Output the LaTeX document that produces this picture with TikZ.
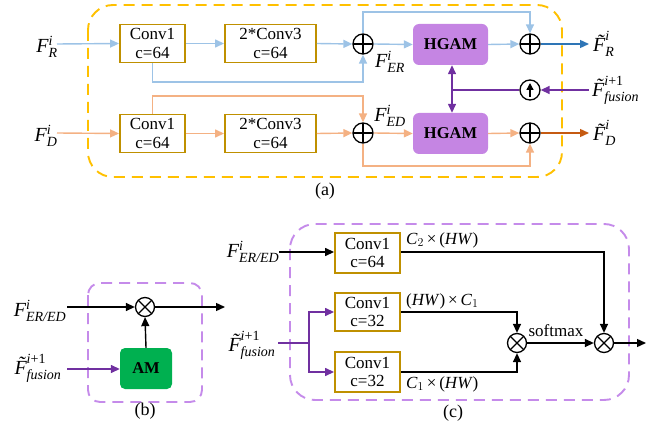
\documentclass[tikz,border=0pt]{standalone}
\usepackage{amsmath}
\usepackage{fontspec}
\setmainfont{Liberation Serif}
\usetikzlibrary{arrows.meta,calc}
\definecolor{lblue}{HTML}{9DC3E6}
\definecolor{dblue}{HTML}{2E75B6}
\definecolor{lorange}{HTML}{F4B183}
\definecolor{dorange}{HTML}{C55A11}
\definecolor{gold}{HTML}{BF9000}
\definecolor{dyellow}{HTML}{FFC000}
\definecolor{pline}{HTML}{7030A0}
\definecolor{hgamfill}{HTML}{C585E3}
\definecolor{dpurple}{HTML}{C58BEA}
\definecolor{amgreen}{HTML}{00B050}
\newcommand\FLab[2]{$\textit{F}^{\textit{#1}}_{\textit{#2}}$}
\newcommand\FTil[2]{$\textit{\~{F}}^{#1}_{#2}$}
\begin{document}
\begin{tikzpicture}[x=1pt,y=-1pt,
  conn/.style={line width=1.4pt},
  convbox/.style={draw=gold, line width=1.9pt, minimum width=65pt, minimum height=38pt, inner sep=0pt, align=center, font=\fontsize{17}{18.5}\selectfont},
  hgam/.style={fill=hgamfill, rounded corners=6pt, minimum width=75pt, minimum height=41pt, inner sep=0pt, font=\fontsize{16.5}{18}\selectfont\bfseries},
  am/.style={fill=amgreen, rounded corners=5pt, minimum width=52pt, minimum height=41pt, inner sep=0pt, font=\fontsize{16.5}{18}\selectfont\bfseries},
  opl/.style={circle, draw, line width=1.3pt, minimum size=20pt, inner sep=0pt,
    path picture={\draw[line width=1.3pt] (path picture bounding box.north) -- (path picture bounding box.south) (path picture bounding box.west) -- (path picture bounding box.east);}},
  otm/.style={circle, draw, line width=1.3pt, minimum size=19pt, inner sep=0pt,
    path picture={\draw[line width=1.3pt] (path picture bounding box.north east) -- (path picture bounding box.south west) (path picture bounding box.north west) -- (path picture bounding box.south east);}},
  upc/.style={circle, draw, line width=1.3pt, minimum size=20pt, inner sep=0pt,
    path picture={\draw[line width=1.3pt,-{Triangle[length=7pt,width=7pt]}] ([yshift=3pt]path picture bounding box.south) -- ([yshift=-3pt]path picture bounding box.north);}},
  lbl/.style={font=\fontsize{20}{24}\selectfont, inner sep=0pt},
  txt/.style={font=\fontsize{17}{19}\selectfont, inner sep=0pt},
  captxt/.style={font=\fontsize{18}{20}\selectfont, inner sep=0pt},
  dashy/.style={line width=1.9pt, dash pattern=on 11pt off 7pt},
  ar/.style={-{Triangle[length=9pt,width=8pt,fill=#1]}},
  ar/.default=black
]
\useasboundingbox (0,0) rectangle (662,433);

% ---------- (a) ----------
\draw[dashy, draw=dyellow, rounded corners=25pt] (88,5) rectangle (562,177);

\node[convbox] (c1r) at (152.5,43.5) {Conv1\\c=64};
\node[convbox, minimum width=91pt] (c3r) at (270.5,43.5) {2*Conv3\\c=64};
\node[convbox] (c1d) at (152.5,133.5) {Conv1\\c=64};
\node[convbox, minimum width=91pt] (c3d) at (270.5,133.5) {2*Conv3\\c=64};
\node[hgam] (hr) at (450.5,44.5) {HGAM};
\node[hgam] (hd) at (450.5,133.5) {HGAM};
\node[opl] (o1r) at (363,44) {};
\node[opl] (o2r) at (530,44) {};
\node[opl] (o1d) at (363,133) {};
\node[opl] (o2d) at (530,133) {};
\node[upc] (up) at (530,90) {};

\node[lbl] (lfr) at (47,47) {\FLab{i}{R}};
\node[lbl] (lfd) at (46,136) {\FLab{i}{D}};
\node[lbl] (ler) at (390,62) {\FLab{i}{ER}};
\node[lbl] (led) at (390,116) {\FLab{i}{ED}};
\node[lbl, anchor=west] (lor) at (593,44) {\FTil{\textit{i}}{\textit{R}}};
\node[lbl, anchor=west] (lod) at (593,133) {\FTil{\textit{i}}{\textit{D}}};
\node[lbl, anchor=west] (lfu) at (592,90) {\FTil{\textit{i}\textup{+1}}{\textit{fusion}}};

\coordinate (inr) at (57,44);
\coordinate (ind) at (57,133);
\coordinate (outr) at (589,44);
\coordinate (outd) at (589,133);
\coordinate (infu) at (589,90);

% blue path
\draw[conn, draw=lblue, ar=lblue] (inr) -- (c1r.west);
\draw[conn, draw=lblue, ar=lblue] (c1r.east) -- (c3r.west);
\draw[conn, draw=lblue, ar=lblue] (c3r.east) -- (o1r.west);
\draw[conn, draw=lblue, ar=lblue] (c1r.south) |- (363,82) -- (o1r.south);
\draw[conn, draw=lblue, ar=lblue] (o1r.east) -- (hr.west);
\draw[conn, draw=lblue, ar=lblue] (o1r.north) |- (530,12) -- (o2r.north);
\draw[conn, draw=lblue, ar=lblue] (hr.east) -- (o2r.west);
\draw[conn, draw=dblue, ar=dblue] (o2r.east) -- (outr);

% orange path
\draw[conn, draw=lorange, ar=lorange] (ind) -- (c1d.west);
\draw[conn, draw=lorange, ar=lorange] (c1d.east) -- (c3d.west);
\draw[conn, draw=lorange, ar=lorange] (c3d.east) -- (o1d.west);
\draw[conn, draw=lorange, ar=lorange] (c1d.north) |- (363,96) -- (o1d.north);
\draw[conn, draw=lorange, ar=lorange] (o1d.east) -- (hd.west);
\draw[conn, draw=lorange, ar=lorange] (o1d.south) |- (530,166) -- (o2d.south);
\draw[conn, draw=lorange, ar=lorange] (hd.east) -- (o2d.west);
\draw[conn, draw=dorange, ar=dorange] (o2d.east) -- (outd);

% purple fusion
\draw[conn, draw=pline, ar=pline] (infu) -- (up.east);
\draw[conn, draw=pline] (up.west) -- (452,90);
\draw[conn, draw=pline, {Triangle[length=9pt,width=8pt,fill=pline]}-{Triangle[length=9pt,width=8pt,fill=pline]}] (hr.south -| 452,0) -- (hd.north -| 452,0);

\node[captxt] (capa) at (325,191) {(a)};

% ---------- (b) ----------
\draw[dashy, draw=dpurple, rounded corners=12pt] (88,283) rectangle (202,402);
\node[otm] (ob) at (145,307) {};
\node[am] (amb) at (146,368.5) {AM};
\node[lbl] (lbe) at (40,311) {\FLab{i}{ER/ED}};
\node[lbl] (lbf) at (38,368) {\FTil{\textit{i}\textup{+1}}{\textit{fusion}}};
\coordinate (bin1) at (67,307);
\coordinate (bin2) at (67,369);
\coordinate (bout) at (225,307);
\draw[conn, ar] (bin1) -- (ob.west);
\draw[conn, ar] (ob.east) -- (bout);
\draw[conn, ar] (amb.north) -- (ob.south);
\draw[conn, draw=pline, ar=pline] (bin2) -- (amb.west |- bin2);
\node[captxt] (capb) at (145,411) {(b)};

% ---------- (c) ----------
\draw[dashy, draw=dpurple, rounded corners=25pt] (290,224) rectangle (629,400);
\node[convbox, minimum height=40pt] (k64) at (367.5,253) {Conv1\\c=64};
\node[convbox] (k32a) at (367.5,312) {Conv1\\c=32};
\node[convbox, minimum height=40pt] (k32b) at (367.5,372) {Conv1\\c=32};
\node[otm] (oc1) at (517,343) {};
\node[otm] (oc2) at (604,343) {};
\node[lbl] (lce) at (253,252) {\FLab{i}{ER/ED}};
\node[lbl] (lcf) at (252,345) {\FTil{\textit{i}\textup{+1}}{\textit{fusion}}};
\node[txt, anchor=west] (t1) at (406,240) {\textit{C}$_2$\,×\,(\textit{HW})};
\node[txt, anchor=west] (t2) at (406,301) {(\textit{HW})\,×\,\textit{C}$_1$};
\node[txt, anchor=west] (t3) at (406,384) {\textit{C}$_1$\,×\,(\textit{HW})};
\node[txt] (tsm) at (556,331) {softmax};
\coordinate (cin1) at (279,252);
\coordinate (cin2) at (278,343);
\coordinate (csp) at (309,343);
\coordinate (cout) at (646,343);
\draw[conn, ar] (cin1) -- (k64.west |- cin1);
\draw[conn, ar] (k64.east |- cin1) -| (oc2.north);
\draw[conn, ar] (k32a.east) -| (oc1.north);
\draw[conn, ar] (k32b.east) -| (oc1.south);
\draw[conn, ar] (oc1.east) -- (oc2.west);
\draw[conn, ar] (oc2.east) -- (cout);
\draw[conn, draw=pline] (cin2) -- (csp);
\draw[conn, draw=pline, ar=pline] (csp) |- (k32a.west);
\draw[conn, draw=pline, ar=pline] (csp) |- (k32b.west);
\node[captxt] (capc) at (453,413) {(c)};
\end{tikzpicture}
\end{document}
